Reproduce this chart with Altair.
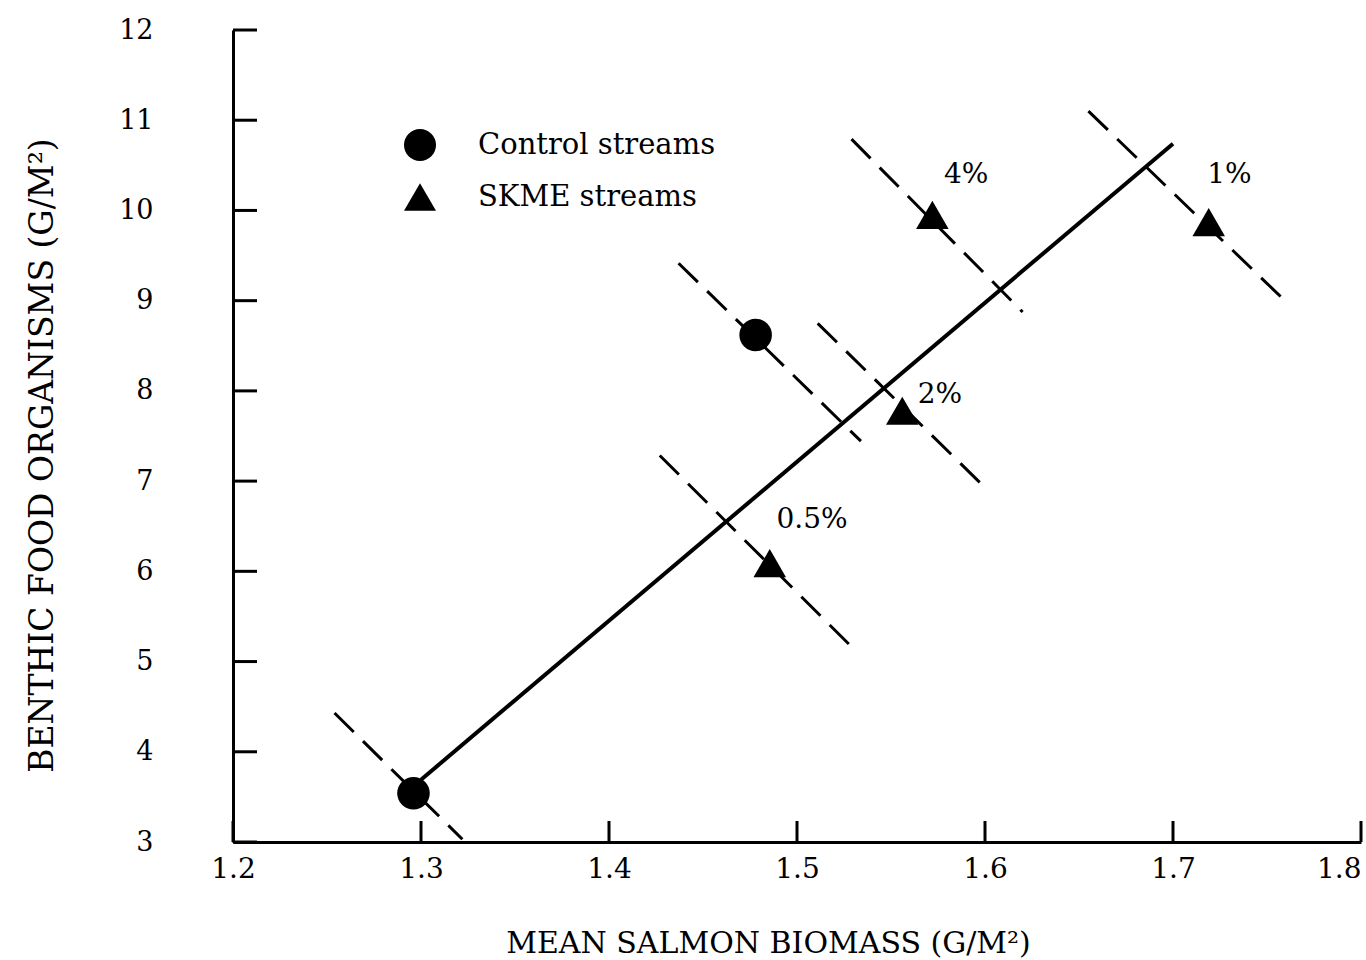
import altair as alt
import pandas as pd

# ---- data ----
control_x = [1.296, 1.478]
control_y = [3.54, 8.62]

skme_x = [1.4855, 1.556, 1.572, 1.719]
skme_y = [6.09, 7.78, 9.95, 9.87]
skme_pct = ["0.5%", "2%", "4%", "1%"]
pct_label_x = [1.508, 1.576, 1.590, 1.730]
pct_label_y = [6.57, 7.95, 10.39, 10.39]

fit_x = [1.30, 1.70]
fit_y = [3.69, 10.74]

dash_x1 = [1.254, 1.437, 1.427, 1.511, 1.529, 1.655]
dash_y1 = [4.43, 9.415, 7.284, 8.749, 10.79, 11.10]
dash_x2 = [1.322, 1.534, 1.529, 1.602, 1.620, 1.760]
dash_y2 = [3.03, 7.443, 5.164, 6.888, 8.875, 8.99]

x_ticks = [1.2, 1.3, 1.4, 1.5, 1.6, 1.7, 1.8]
y_ticks = [3, 4, 5, 6, 7, 8, 9, 10, 11, 12]

groups = ["Control streams", "SKME streams"]

# ---- tables ----
pts = pd.DataFrame({
    "x": control_x + skme_x,
    "y": control_y + skme_y,
    "group": [groups[0]] * len(control_x) + [groups[1]] * len(skme_x),
})
fit = pd.DataFrame({"x": fit_x, "y": fit_y})
dashes = pd.DataFrame({"x": dash_x1, "y": dash_y1, "x2": dash_x2, "y2": dash_y2})
labels = pd.DataFrame({"x": pct_label_x, "y": pct_label_y, "t": skme_pct})
xt = pd.DataFrame({"v": x_ticks})
yt = pd.DataFrame({"v": y_ticks})

W, H = 1128, 812
SERIF = "DejaVu Serif"

xscale = alt.Scale(domain=[1.2, 1.8], nice=False, zero=False)
yscale = alt.Scale(domain=[3, 12], nice=False, zero=False)

xaxis = alt.Axis(
    values=x_ticks, format=".1f", ticks=False, grid=False,
    domainColor="black", domainWidth=3,
    labelFont=SERIF, labelFontSize=28, labelColor="black", labelPadding=13,
    labelAlign={"condition": {"test": "datum.value >= 1.79", "value": "right"}, "value": "center"},
    title="MEAN SALMON BIOMASS (G/M²)", titleFont=SERIF, titleFontSize=30,
    titleFontWeight="normal", titleColor="black",
    titleX=535, titleY=101, titleAnchor="middle", titleAlign="center", titleBaseline="middle",
)
yaxis = alt.Axis(
    values=y_ticks, format="d", ticks=False, grid=False,
    domainColor="black", domainWidth=3,
    labelFont=SERIF, labelFontSize=27, labelColor="black", labelPadding=80,
    title="BENTHIC FOOD ORGANISMS (G/M²)", titleFont=SERIF, titleFontSize=33,
    titleFontWeight="normal", titleColor="black",
    titleX=-191, titleY=425, titleAngle=-90, titleAlign="center", titleBaseline="middle",
)

X = alt.X("x:Q", scale=xscale, axis=xaxis)
Y = alt.Y("y:Q", scale=yscale, axis=yaxis)

dash_layer = alt.Chart(dashes).mark_rule(
    color="black", strokeWidth=3, strokeDash=[27, 13]
).encode(x=X, y=Y, x2="x2:Q", y2="y2:Q")

fit_layer = alt.Chart(fit).mark_line(color="black", strokeWidth=4).encode(x=X, y=Y)

point_layer = alt.Chart(pts).mark_point(
    filled=True, color="black", size=1060, opacity=1, strokeWidth=0
).encode(
    x=X, y=Y,
    shape=alt.Shape(
        "group:N",
        scale=alt.Scale(domain=groups, range=["circle", "triangle-up"]),
        legend=alt.Legend(
            title=None, orient="none", legendX=171, legendY=99,
            symbolSize=1024, symbolFillColor="black", symbolStrokeWidth=0,
            symbolOpacity=1, labelFont=SERIF, labelFontSize=29, labelColor="black",
            labelLimit=0, labelOffset=42, rowPadding=20, padding=0,
        ),
    ),
)

text_layer = alt.Chart(labels).mark_text(
    font=SERIF, fontSize=28, color="black", align="center", baseline="middle"
).encode(x=X, y=Y, text="t:N")

ytick_layer = alt.Chart(yt).mark_rule(color="black", strokeWidth=3).encode(
    y=alt.Y("v:Q", scale=yscale, axis=yaxis), x=alt.value(0), x2=alt.value(24)
)
xtick_layer = alt.Chart(xt).mark_rule(color="black", strokeWidth=3).encode(
    x=alt.X("v:Q", scale=xscale, axis=xaxis), y=alt.value(H), y2=alt.value(H - 21)
)

chart = alt.layer(
    dash_layer, fit_layer, ytick_layer, xtick_layer, point_layer, text_layer
).properties(
    width=W, height=H,
    autosize=alt.AutoSizeParams(type="none"),
    padding={"left": 233, "top": 30, "right": 5, "bottom": 118},
    background="white",
).configure_view(stroke=None)

chart.save("out.html", embed_options={"renderer": "svg", "actions": False})
